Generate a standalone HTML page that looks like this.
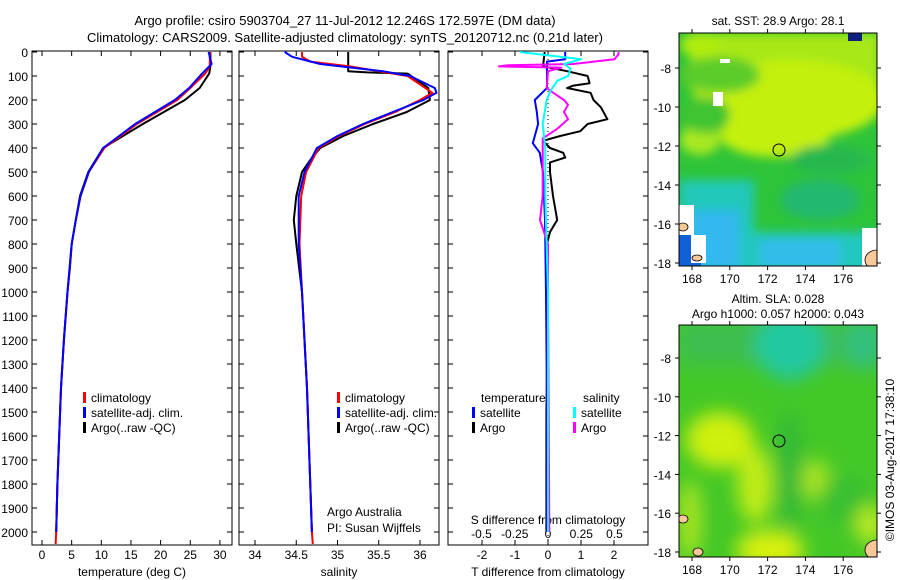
<!DOCTYPE html>
<html><head><meta charset="utf-8">
<style>
html,body{margin:0;padding:0;background:#fff;}
svg{display:block;font-family:"Liberation Sans",sans-serif;}
</style></head>
<body>
<svg id="fig" width="900" height="580" viewBox="0 0 900 580" xmlns="http://www.w3.org/2000/svg">
<defs>
<filter id="bl" x="-50%" y="-50%" width="200%" height="200%"><feGaussianBlur stdDeviation="9"/></filter>
<filter id="bl2" x="-50%" y="-50%" width="200%" height="200%"><feGaussianBlur stdDeviation="5"/></filter>
<clipPath id="c1"><rect x="32" y="51" width="200" height="494"/></clipPath>
<clipPath id="c2"><rect x="239" y="51" width="200" height="494"/></clipPath>
<clipPath id="c3"><rect x="448" y="51" width="200" height="494"/></clipPath>
<clipPath id="m1"><rect x="679" y="33" width="198" height="233"/></clipPath>
<clipPath id="m2"><rect x="679" y="325" width="198" height="232"/></clipPath>
</defs>
<text x="345" y="25" font-size="13" text-anchor="middle">Argo profile: csiro 5903704_27 11-Jul-2012 12.246S 172.597E (DM data)</text>
<text x="345" y="42" font-size="13" text-anchor="middle">Climatology: CARS2009. Satellite-adjusted climatology: synTS_20120712.nc (0.21d later)</text>
<g id="p1"></g>
<g id="p2"></g>
<g id="p3"></g>

<!-- top map -->
<g>
<text x="778" y="25" font-size="12" text-anchor="middle">sat. SST: 28.9 Argo: 28.1</text>
<g clip-path="url(#m1)">
<rect x="679" y="33" width="198" height="233" fill="#2ec43a"/>
<g filter="url(#bl2)">
<rect x="690" y="33" width="190" height="60" fill="#a8e818"/>
<ellipse cx="790" cy="100" rx="95" ry="40" fill="#c4f00c"/>
<ellipse cx="775" cy="135" rx="55" ry="22" fill="#c4f00c"/>
<ellipse cx="700" cy="140" rx="20" ry="15" fill="#a8e820"/>
<ellipse cx="720" cy="75" rx="40" ry="18" fill="#5ccc2a"/>
<ellipse cx="705" cy="115" rx="25" ry="18" fill="#40c430"/>
<ellipse cx="700" cy="45" rx="20" ry="12" fill="#b0ec10"/>
<rect x="679" y="180" width="75" height="95" fill="#22c8b8"/>
<rect x="740" y="232" width="140" height="40" fill="#22c8c0"/>
<rect x="690" y="210" width="50" height="60" fill="#33b8ee"/>
<rect x="760" y="240" width="80" height="30" fill="#33bcea"/>
<ellipse cx="820" cy="200" rx="40" ry="20" fill="#22b870"/>
<ellipse cx="830" cy="160" rx="40" ry="15" fill="#28b850"/>
</g>
<rect x="679" y="235" width="22" height="31" fill="#1060d8"/>
<rect x="848" y="33" width="14" height="8" fill="#102080"/>
<rect x="679" y="205" width="15" height="30" fill="#fff"/>
<rect x="691" y="235" width="15" height="28" fill="#fff"/>
<rect x="713" y="92" width="10" height="14" fill="#fff"/>
<rect x="720" y="59" width="10" height="4" fill="#fff"/>
<rect x="862" y="228" width="15" height="38" fill="#fff"/>
<ellipse cx="877" cy="260" rx="12" ry="10" fill="#f8c898" stroke="#000" stroke-width="0.8"/>
<ellipse cx="683" cy="227" rx="5" ry="4" fill="#f8c898" stroke="#000" stroke-width="0.8"/>
<ellipse cx="697" cy="258" rx="5" ry="3" fill="#f8c898" stroke="#000" stroke-width="0.8"/>
</g>
<circle cx="779" cy="150" r="6" fill="none" stroke="#000" stroke-width="1"/>
<rect x="679" y="33" width="198" height="233" fill="none" stroke="#000" stroke-width="1"/>
<g id="m1ax"></g>
</g>

<!-- bottom map -->
<g>
<text x="778" y="303" font-size="12" text-anchor="middle">Altim. SLA: 0.028</text>
<text x="778" y="318" font-size="12" text-anchor="middle">Argo h1000: 0.057 h2000: 0.043</text>
<g clip-path="url(#m2)">
<rect x="679" y="325" width="198" height="232" fill="#44c828"/>
<g filter="url(#bl)">
<rect x="679" y="320" width="200" height="45" fill="#3cbe50"/>
<ellipse cx="790" cy="345" rx="35" ry="35" fill="#22c8a0"/>
<ellipse cx="865" cy="345" rx="20" ry="25" fill="#30c080"/>
<ellipse cx="720" cy="440" rx="34" ry="28" fill="#d0f010"/>
<ellipse cx="755" cy="485" rx="18" ry="38" fill="#c0ec14"/>
<ellipse cx="770" cy="550" rx="34" ry="20" fill="#d8f010"/>
<ellipse cx="815" cy="480" rx="15" ry="20" fill="#a8e420"/>
<ellipse cx="845" cy="500" rx="25" ry="25" fill="#38c030"/>
<ellipse cx="870" cy="525" rx="15" ry="20" fill="#b8ea20"/>
<ellipse cx="790" cy="470" rx="12" ry="60" fill="#30b838"/>
<ellipse cx="690" cy="520" rx="12" ry="40" fill="#a8e420"/>
</g>
<ellipse cx="683" cy="519" rx="5" ry="4" fill="#f8c898" stroke="#000" stroke-width="0.8"/>
<ellipse cx="698" cy="552" rx="5" ry="4" fill="#f8c898" stroke="#000" stroke-width="0.8"/>
<ellipse cx="877" cy="550" rx="12" ry="10" fill="#f8c898" stroke="#000" stroke-width="0.8"/>
</g>
<circle cx="779" cy="441" r="6" fill="none" stroke="#000" stroke-width="1"/>
<rect x="679" y="325" width="198" height="232" fill="none" stroke="#000" stroke-width="1"/>
<g id="m2ax"></g>
</g>
<text transform="translate(894,460) rotate(-90)" font-size="12" text-anchor="middle">©IMOS 03-Aug-2017 17:38:10</text>
</svg>
<script>
// ---- data ----
const depthTicks = [0,100,200,300,400,500,600,700,800,900,1000,1100,1200,1300,1400,1500,1600,1700,1800,1900,2000];
const tempTicks = [0,5,10,15,20,25,30];
const salTicks = [34,34.5,35,35.5,36];
const tdiffTicks = [-2,-1,0,1,2];
const sdiffTicks = [-0.5,-0.25,0,0.25,0.5];
const sdiffTickLabels = ["-0.5","-0.25","0","0.25","0.5"];

const tArgoDepth = [0,60,90,150,200,300,400,500,600,700,800,900,1000,1200,1400,1600,1800,2000];
const tArgo      = [28.4,28.4,28.2,26.6,24.1,17.0,10.3,7.8,6.4,5.7,5.0,4.7,4.3,3.7,3.2,2.9,2.6,2.4];
const tClimDepth = [0,60,90,150,200,300,400,500,600,700,800,1000,1200,1400,1600,1800,2000,2050];
const tClim      = [28.3,28.3,27.5,25.0,22.8,16.0,10.5,7.9,6.5,5.7,5.0,4.3,3.7,3.2,2.9,2.6,2.4,2.3];
const tSatDepth  = [0,50,90,150,200,300,400,500,600,700,800,1000,1200,1400,1600,1800,2000];
const tSat       = [28.1,28.6,27.0,24.8,22.4,15.7,10.3,7.9,6.5,5.7,5.0,4.3,3.7,3.2,2.9,2.6,2.4];

const sArgoDepth = [0,80,85,90,150,200,250,300,350,400,450,500,600,700,800,1000,1400,2000];
const sArgo      = [35.13,35.13,35.36,35.85,36.10,36.12,35.84,35.43,35.07,34.79,34.67,34.57,34.50,34.47,34.50,34.57,34.63,34.69];
const sClimDepth = [0,20,40,60,100,170,200,250,300,350,400,500,600,800,1000,1400,2000,2050];
const sClim      = [34.57,34.57,34.67,35.15,35.85,36.15,36.0,35.7,35.33,35.02,34.77,34.62,34.56,34.54,34.57,34.63,34.69,34.70];
const sSatDepth  = [0,20,50,80,100,150,170,200,250,300,350,400,500,600,800,1000,1400,2000];
const sSat       = [34.36,34.45,34.79,35.55,35.88,36.18,36.2,36.04,35.67,35.31,35.0,34.75,34.6,34.53,34.53,34.57,34.63,34.69];

const dTArgoDepth = [0,60,80,100,130,140,150,170,200,230,280,300,330,350,370,400,420,440,460,500,600,700,750,800,1000,1500,2000];
const dTArgo      = [-0.1,-0.15,0.58,1.2,1.26,0.77,0.58,1.29,1.38,1.6,1.8,1.2,0.98,0.37,-0.15,0.06,0.46,0.52,0.06,0.06,0.15,0.28,0.06,-0.03,0,-0.05,-0.05];
const dTSatDepth  = [0,30,40,80,150,200,250,300,350,380,420,500,700,1000,1500,2000];
const dTSat       = [0.52,0.52,-0.03,-0.03,-0.03,-0.4,-0.34,-0.3,-0.4,-0.46,-0.25,-0.15,-0.09,-0.06,-0.03,-0.03];
const dSArgoDepth = [0,10,30,50,55,60,65,70,80,150,170,200,220,250,280,320,360,450,600,700,800,1000,2000];
const dSArgo      = [0.53,0.53,0.5,0.19,-0.3,-0.37,0.1,0.07,0.0,-0.01,0.04,0.12,0.15,0.12,0.15,0.07,-0.04,-0.04,-0.04,-0.06,0.0,0.0,0.01];
const dSSatDepth  = [0,10,30,50,70,100,120,160,200,300,400,600,1000,2000];
const dSSat       = [-0.21,-0.06,0.25,0.12,0.17,0.15,0.07,0.02,-0.01,-0.04,-0.02,-0.02,0.0,0.0];

const mapLonTicks = [168,170,172,174,176];
const mapLatTicks = [-8,-10,-12,-14,-16,-18];

// ---- scales ----
const y = d => 52 + d*0.24;
const xT = t => 42 + t*5.93;
const xS = s => 255 + (s-34)*82.5;
const xdT = t => 548 + t*33;
const xdS = s => 548 + s*133;
const lonX = l => 692 + (l-168)*18.9;
const latY1 = l => 68 + (-8-l)*19.5;
const latY2 = l => 358 + (-8-l)*19.4;

const NS = "http://www.w3.org/2000/svg";
function mk(tag, parent, attrs){
  const e = document.createElementNS(NS, tag);
  for (const k in attrs) e.setAttribute(k, attrs[k]);
  parent.appendChild(e); return e;
}
function line(parent, depths, vals, xf, color, w, name){
  const pts = depths.map((d,i)=> xf(vals[i]).toFixed(1)+","+y(d).toFixed(1)).join(" ");
  const p = mk("polyline", parent, {points:pts, fill:"none", stroke:color, "stroke-width":w, "stroke-linejoin":"round"});
  
  
}
function txt(parent, x, yy, s, anchor, size, name){
  const t = mk("text", parent, {x:x, y:yy, "font-size":size||12, "text-anchor":anchor||"middle"});
  t.textContent = s;
  
  
  return t;
}
function frame(g, x0, clip, xticks, xf, labels, title){
  mk("rect", g, {x:x0, y:51, width:200, height:494, fill:"none", stroke:"#000", "stroke-width":1});
  depthTicks.forEach(d=>{
    mk("line", g, {x1:x0, x2:x0+5, y1:y(d), y2:y(d), stroke:"#000"});
    mk("line", g, {x1:x0+200-5, x2:x0+200, y1:y(d), y2:y(d), stroke:"#000"});
  });
  xticks.forEach((v,i)=>{
    mk("line", g, {x1:xf(v), x2:xf(v), y1:545, y2:540, stroke:"#000"});
    mk("line", g, {x1:xf(v), x2:xf(v), y1:51, y2:56, stroke:"#000"});
    txt(g, xf(v), 559, labels[i], "middle", 12, "x-tick-label");
  });
  txt(g, x0+100, 576, title, "middle", 12, "x-axis-title");
}
function legendEntry(g, x, yy, color, label){
  mk("rect", g, {x:x, y:yy-10, width:3, height:11, fill:color});
  txt(g, x+8, yy, label, "start", 12, "legend-entry");
}

// panel 1
const p1 = document.getElementById("p1");
depthTicks.forEach(d=> txt(p1, 28, y(d)+5, String(d), "end", 12, "y-tick-label"));
frame(p1, 32, "c1", tempTicks, xT, tempTicks.map(String), "temperature (deg C)");
const g1 = mk("g", p1, {"clip-path":"url(#c1)"});
line(g1, tArgoDepth, tArgo, xT, "#000", 2, "temp-argo-line");
line(g1, tClimDepth, tClim, xT, "#f00", 2, "temp-climatology-line");
line(g1, tSatDepth, tSat, xT, "#00f", 2, "temp-satellite-line");
legendEntry(p1, 83, 402, "#f00", "climatology");
legendEntry(p1, 83, 417, "#00f", "satellite-adj. clim.");
legendEntry(p1, 83, 432, "#000", "Argo(..raw -QC)");

// panel 2
const p2 = document.getElementById("p2");
frame(p2, 239, "c2", salTicks, xS, salTicks.map(String), "salinity");
const g2 = mk("g", p2, {"clip-path":"url(#c2)"});
line(g2, sArgoDepth, sArgo, xS, "#000", 2, "sal-argo-line");
line(g2, sClimDepth, sClim, xS, "#f00", 2, "sal-climatology-line");
line(g2, sSatDepth, sSat, xS, "#00f", 2, "sal-satellite-line");
legendEntry(p2, 337, 402, "#f00", "climatology");
legendEntry(p2, 337, 417, "#00f", "satellite-adj. clim.");
legendEntry(p2, 337, 432, "#000", "Argo(..raw -QC)");
txt(p2, 327, 516, "Argo Australia", "start", 12, "credit-line-1");
txt(p2, 327, 532, "PI: Susan Wijffels", "start", 12, "credit-line-2");

// panel 3
const p3 = document.getElementById("p3");
frame(p3, 448, "c3", tdiffTicks, xdT, tdiffTicks.map(String), "T difference from climatology");
sdiffTicks.forEach((v,i)=> txt(p3, xdS(v), 538, sdiffTickLabels[i], "middle", 12, "s-diff-tick-label"));
txt(p3, 548, 524, "S difference from climatology", "middle", 12, "s-diff-axis-title");
const g3 = mk("g", p3, {"clip-path":"url(#c3)"});
mk("line", g3, {x1:548, x2:548, y1:51, y2:545, stroke:"#000", "stroke-dasharray":"1,3"});
line(g3, dTArgoDepth, dTArgo, xdT, "#000", 2, "tdiff-argo-line");
line(g3, dTSatDepth, dTSat, xdT, "#00f", 2, "tdiff-satellite-line");
line(g3, dSArgoDepth, dSArgo, xdS, "#f0f", 2, "sdiff-argo-line");
line(g3, dSSatDepth, dSSat, xdS, "#0ff", 2, "sdiff-satellite-line");
txt(p3, 481, 402, "temperature", "start", 12, "legend-header-temperature");
txt(p3, 583, 402, "salinity", "start", 12, "legend-header-salinity");
legendEntry(p3, 472, 417, "#00f", "satellite");
legendEntry(p3, 472, 432, "#000", "Argo");
legendEntry(p3, 573, 417, "#0ff", "satellite");
legendEntry(p3, 573, 432, "#f0f", "Argo");

// map axes
function mapAxes(id, top, bottom, latY, labY){
  const g = document.getElementById(id);
  mapLonTicks.forEach(l=>{
    mk("line", g, {x1:lonX(l), x2:lonX(l), y1:bottom, y2:bottom+4, stroke:"#000"});
    mk("line", g, {x1:lonX(l), x2:lonX(l), y1:top, y2:top-4, stroke:"#000"});
    txt(g, lonX(l), labY, String(l), "middle", 12, "lon-tick-label");
  });
  mapLatTicks.forEach(l=>{
    mk("line", g, {x1:675, x2:679, y1:latY(l), y2:latY(l), stroke:"#000"});
    mk("line", g, {x1:877, x2:881, y1:latY(l), y2:latY(l), stroke:"#000"});
    txt(g, 671, latY(l)+5, String(l), "end", 12, "lat-tick-label");
  });
}
mapAxes("m1ax", 33, 266, latY1, 283);
mapAxes("m2ax", 325, 557, latY2, 574);
</script>
</body></html>
